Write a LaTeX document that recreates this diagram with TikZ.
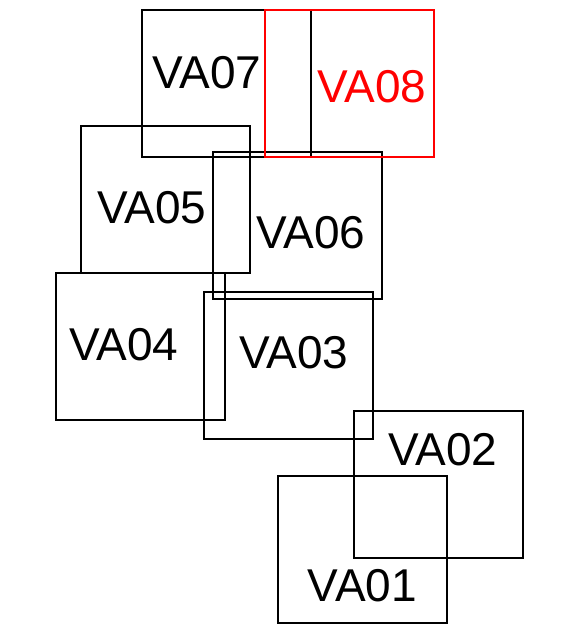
\documentclass[tikz,border=0pt]{standalone}
\usepackage{fontspec}
\setmainfont{Liberation Sans}
\usetikzlibrary{calc}

\begin{document}
\begin{tikzpicture}[x=1pt, y=-1pt, line width=2pt,
  tag/.style={anchor=base, inner sep=0pt, font=\fontsize{46}{46}\selectfont}]

\useasboundingbox (0,0) rectangle (575,630);

% box size
\coordinate (S) at (169,147);

\coordinate (A1) at (278,476);
\coordinate (A2) at (354,411);
\coordinate (A3) at (204,292);
\coordinate (A4) at (56,273);
\coordinate (A5) at (81,126);
\coordinate (A6) at (213,152);
\coordinate (A7) at (142,10);
\coordinate (A8) at (265,10);

\draw (A1) rectangle ($(A1)+(S)$);
\draw (A2) rectangle ($(A2)+(S)$);
\draw (A3) rectangle ($(A3)+(S)$);
\draw (A4) rectangle ($(A4)+(S)$);
\draw (A5) rectangle ($(A5)+(S)$);
\draw (A6) rectangle ($(A6)+(S)$);
\draw (A7) rectangle ($(A7)+(S)$);
\draw[red] (A8) rectangle ($(A8)+(S)$);

\node[tag] (L1) at (362.5,601.5) {VA01};
\node[tag] (L2) at (443,465) {VA02};
\node[tag] (L3) at (294,368) {VA03};
\node[tag] (L4) at (124,360) {VA04};
\node[tag] (L5) at (152,223) {VA05};
\node[tag] (L6) at (311,248) {VA06};
\node[tag] (L7) at (207,88) {VA07};
\node[tag, red] (L8) at (372,102) {VA08};

\end{tikzpicture}
\end{document}
